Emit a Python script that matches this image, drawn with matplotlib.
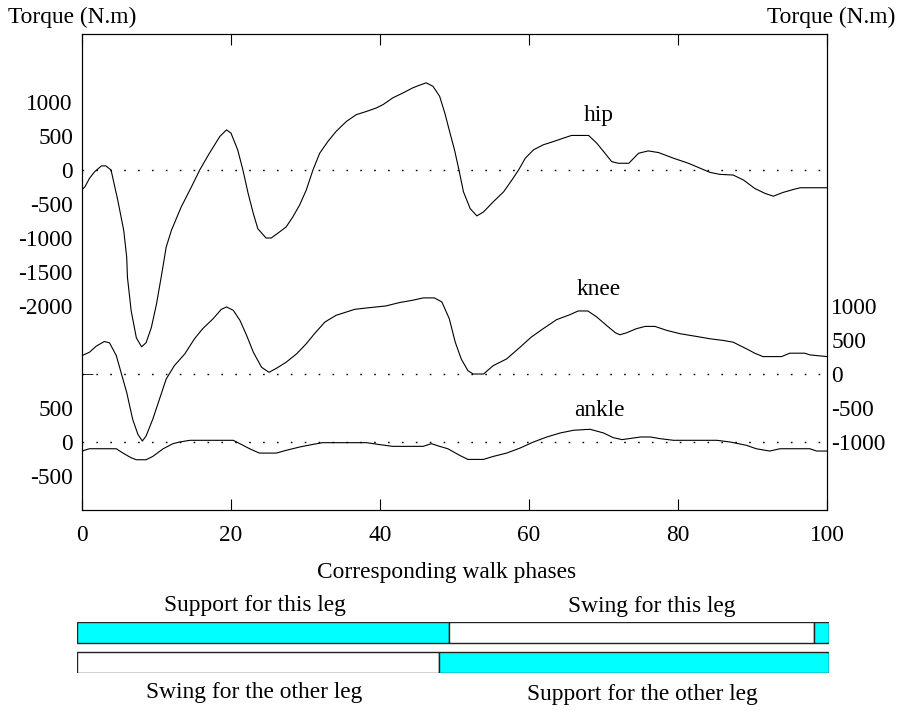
import numpy as np
import matplotlib.pyplot as plt
from matplotlib.ticker import FixedLocator

plt.rcParams['font.family'] = ['Liberation Serif', 'DejaVu Serif']
plt.rcParams['font.size'] = 16.8

# -----------------------------
# Data
# -----------------------------

phase = [0, 0.4, 1.0, 1.7, 2.6, 3.2, 3.9, 4.8, 5.6, 6.0,
         6.1, 6.6, 7.3, 8.0, 8.6, 9.3, 10.0, 10.7, 11.3, 12.0,
         13.3, 14.7, 15.8, 17.1, 18.5, 19.4, 20.0, 20.9, 21.6, 22.3,
         23.0, 23.6, 24.7, 25.4, 26.5, 27.4, 28.3, 29.2, 30.1, 31.0,
         31.9, 33.0, 34.1, 35.5, 36.8, 38.2, 39.5, 40.4, 41.7, 43.1,
         44.4, 45.3, 46.2, 47.1, 48.0, 48.7, 49.4, 50.0, 50.6, 51.2,
         52.1, 53.0, 53.9, 55.2, 56.6, 57.7, 58.6, 59.5, 60.6, 61.9,
         63.3, 64.6, 65.7, 68.0, 69.1, 70.2, 71.1, 72.0, 73.4, 74.7,
         76.0, 77.4, 79.4, 81.4, 83.0, 84.3, 85.6, 87.4, 88.8, 90.3,
         91.7, 92.8, 94.1, 95.5, 96.4, 100]
hip = [-290, -246, -123, -25, 60, 60, 0, -444, -887, -1282,
       -1578, -2071, -2470, -2600, -2540, -2320, -1970, -1530, -1133, -888,
       -547, -246, 0, 246, 493, 590, 542, 296, 0, -345,
       -641, -863, -1000, -1000, -912, -838, -690, -517, -296, 0,
       246, 419, 567, 715, 813, 862, 912, 961, 1060, 1134,
       1208, 1247, 1282, 1232, 1085, 838, 542, 296, 0, -320,
       -567, -675, -616, -468, -320, -148, 0, 173, 296, 370,
       419, 468, 508, 508, 394, 246, 123, 99, 99, 246,
       281, 256, 173, 99, 25, -35, -64, -74, -148, -271,
       -345, -385, -330, -286, -261, -261]

knee_phase = [0, 1.0, 1.9, 3.0, 3.7, 4.6, 5.3, 6.0, 6.8, 7.5,
              8.1, 8.6, 9.5, 10.4, 11.3, 12.4, 13.8, 15.1, 16.2, 17.6,
              18.7, 19.4, 20.3, 21.2, 22.1, 23.0, 24.1, 25.1, 26.1, 27.4,
              28.8, 30.1, 31.2, 32.6, 34.1, 35.5, 36.6, 38.2, 40.8, 42.6,
              44.4, 45.8, 47.3, 48.3, 49.3, 50.1, 50.9, 51.8, 52.5, 53.9,
              55.2, 57.0, 58.8, 60.3, 61.9, 63.7, 65.5, 66.6, 67.9, 69.1,
              70.4, 71.6, 72.2, 73.1, 74.4, 75.6, 76.9, 78.5, 80.3, 82.5,
              84.3, 86.1, 87.4, 89.2, 90.3, 91.4, 93.9, 95.0, 97.0, 97.7,
              100]
knee = [271, 320, 409, 478, 458, 271, 0, -271, -665, -887,
        -986, -912, -665, -370, -74, 123, 296, 518, 666, 813,
        951, 986, 937, 789, 567, 320, 99, 25, 84, 173,
        296, 444, 592, 764, 863, 912, 951, 971, 1001, 1050,
        1085, 1119, 1119, 1060, 813, 468, 222, 49, 0, 0,
        123, 222, 394, 542, 666, 799, 873, 927, 927, 838,
        715, 606, 577, 606, 666, 700, 700, 641, 592, 552,
        518, 493, 468, 370, 306, 256, 256, 306, 306, 281,
        256]

ankle_phase = [0, 1.0, 4.6, 5.5, 6.6, 7.3, 8.6, 9.5, 10.9, 12.2,
               13.1, 14.5, 20.3, 21.2, 22.5, 23.8, 26.1, 27.4, 29.2, 31.0,
               32.3, 38.2, 40.0, 41.7, 45.8, 46.9, 48.0, 49.1, 50.7, 51.8,
               53.9, 55.2, 57.0, 58.8, 60.6, 62.4, 64.2, 66.0, 68.2, 70.0,
               71.3, 72.5, 75.0, 76.3, 77.6, 79.4, 85.2, 87.0, 89.2, 90.5,
               92.3, 93.7, 97.7, 98.6, 100]
ankle = [-133, -99, -99, -163, -232, -261, -261, -212, -99, -25,
         0, 25, 25, -25, -99, -163, -163, -123, -74, -35,
         -10, -10, -39, -64, -64, -25, -64, -99, -197, -256,
         -256, -212, -163, -89, 0, 74, 133, 173, 187, 133,
         64, 35, 74, 74, 49, 25, 25, 0, -49, -99,
         -133, -99, -99, -133, -133]

# vertical offsets used to stack the three joints on one axis
hip_off, knee_off, ankle_off = 0, -3000, -4000

hip_ticks = [1000, 500, 0, -500, -1000, -1500, -2000]
ankle_ticks = [500, 0, -500]
knee_ticks = [1000, 500, 0, -500, -1000]
x_ticks = [0, 20, 40, 60, 80, 100]

# walk phases (percent of cycle)
this_leg_edges = [0, 49.5, 98.0, 100]
this_leg_state = ['support', 'swing', 'support']
other_leg_edges = [0, 48.2, 100]
other_leg_state = ['swing', 'support']

# -----------------------------
# Figure
# -----------------------------

W, H = 909, 710
fig = plt.figure(figsize=(W / 100, H / 100), dpi=100)


def fx(px):
    return px / W


def fy(py):
    return 1 - py / H


ax = fig.add_axes([fx(82), fy(510), fx(827) - fx(82), fy(34) - fy(510)])
ax.set_xlim(0, 100)
ax.set_ylim(-5000, 2000)

for xs, ys, off in [(phase, hip, hip_off),
                    (knee_phase, knee, knee_off),
                    (ankle_phase, ankle, ankle_off)]:
    ax.plot(xs, np.array(ys) + off, color='black', lw=0.8)
    ax.axhline(off, color='black', lw=1, dashes=(1.2, 8.8))

ax.text(69.4, 800, 'hip', ha='center', va='center')
ax.text(69.4, knee_off + 1240, 'knee', ha='center', va='center')
ax.text(69.4, ankle_off + 465, 'ankle', ha='center', va='center')

# x axis
ax.set_xticks(x_ticks)
ax.tick_params(axis='x', direction='in', length=8, top=True, pad=11)

# left axis: hip and ankle
ax.set_yticks([t + hip_off for t in hip_ticks] + [t + ankle_off for t in ankle_ticks])
ax.set_yticklabels([str(t) for t in hip_ticks] + [str(t) for t in ankle_ticks])
ax.tick_params(axis='y', which='major', length=0, pad=6.5)
ax.yaxis.set_minor_locator(FixedLocator([1000, 0, -1000, -2000, -3000, -4000]))
ax.tick_params(axis='y', which='minor', direction='in', length=8, left=True, right=False)

# right axis: knee
ax2 = ax.twinx()
ax2.set_ylim(-5000, 2000)
ax2.set_yticks([t + knee_off for t in knee_ticks])
ax2.set_yticklabels([str(t) for t in knee_ticks])
ax2.tick_params(axis='y', which='major', length=0, pad=3)
ax2.yaxis.set_minor_locator(FixedLocator([-2000, -3000, -4000]))
ax2.tick_params(axis='y', which='minor', direction='in', length=8)

fig.text(fx(8), fy(23), 'Torque (N.m)', ha='left', va='baseline')
fig.text(fx(895), fy(23), 'Torque (N.m)', ha='right', va='baseline')
fig.text(fx(447), fy(578), 'Corresponding walk phases', ha='center', va='baseline')

# -----------------------------
# Walk phase bars
# -----------------------------

colors = {'support': '#00ffff', 'swing': 'white'}
bx = fig.add_axes([fx(77), fy(673), fx(829) - fx(77), fy(622) - fy(673)])
bx.set_xlim(0, 100)
bx.set_ylim(0, 51)
bx.axis('off')

for edges, states, yc in [(this_leg_edges, this_leg_state, 40.5),
                          (other_leg_edges, other_leg_state, 10.5)]:
    for i, s in enumerate(states):
        bx.barh(yc, edges[i + 1] - edges[i], left=edges[i], height=21,
                color=colors[s], edgecolor='#222222', lw=1)

fig.text(fx(255), fy(611), 'Support for this leg', ha='center', va='baseline')
fig.text(fx(652), fy(612), 'Swing for this leg', ha='center', va='baseline')
fig.text(fx(254), fy(698), 'Swing for the other leg', ha='center', va='baseline')
fig.text(fx(642), fy(700), 'Support for the other leg', ha='center', va='baseline')

fig.savefig('out.png', dpi=100)
